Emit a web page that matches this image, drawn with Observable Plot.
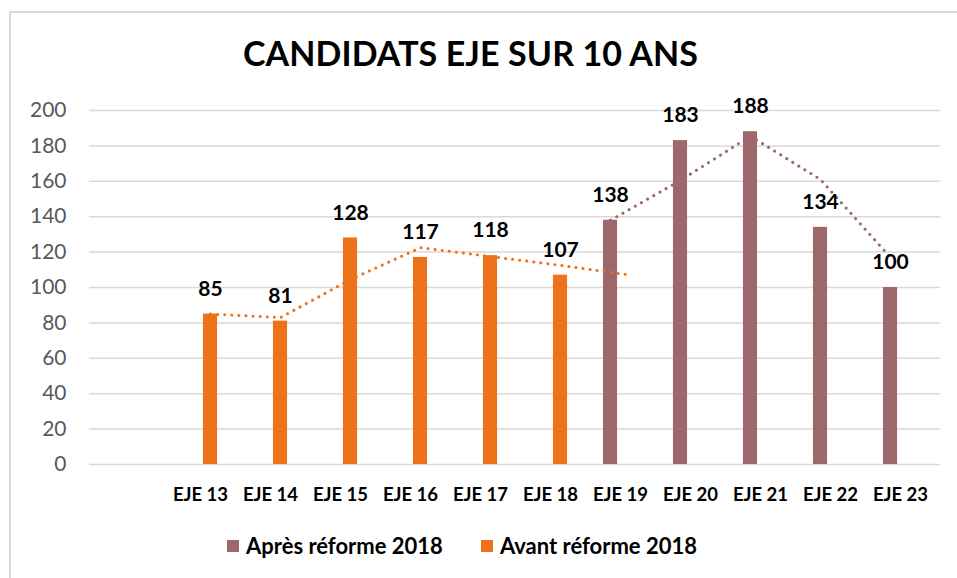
<!DOCTYPE html>
<html>
<head>
<meta charset="utf-8">
<script src="https://cdn.jsdelivr.net/npm/d3@7"></script>
<script src="https://cdn.jsdelivr.net/npm/@observablehq/plot@0.6"></script>
<style>
  html, body { margin: 0; padding: 0; background: #fff; }
  body { width: 957px; height: 578px; position: relative; overflow: hidden; font-family: Lato, "Open Sans", sans-serif; }
  #frame { position: absolute; left: 9px; top: 11px; width: 960px; height: 580px; border-top: 2px solid #d9d9d9; border-left: 2px solid #d9d9d9; box-sizing: border-box; }
  #title { position: absolute; left: 0; top: 32px; width: 941px; text-align: center; font-weight: 700; font-size: 34px; color: #000; letter-spacing: 0.1px; }
  #chart { position: absolute; left: 0; top: 90px; }
  #legend { position: absolute; left: 227px; top: 532px; display: flex; font-weight: 700; font-size: 22px; color: #000; }
  .item { display: flex; align-items: center; margin-right: 38px; }
  .sw { width: 12px; height: 12px; margin-right: 7px; }
</style>
</head>
<body>
<div id="frame"></div>
<div id="title">CANDIDATS EJE SUR 10 ANS</div>
<div id="chart"></div>
<div id="legend"></div>
<script>
const categories = ["", "EJE 13", "EJE 14", "EJE 15", "EJE 16", "EJE 17", "EJE 18", "EJE 19", "EJE 20", "EJE 21", "EJE 22", "EJE 23"];
const avantCats = ["EJE 13", "EJE 14", "EJE 15", "EJE 16", "EJE 17", "EJE 18"];
const avantValues = [85, 81, 128, 117, 118, 107];
const apresCats = ["EJE 19", "EJE 20", "EJE 21", "EJE 22", "EJE 23"];
const apresValues = [138, 183, 188, 134, 100];
// dotted trend lines (2-period moving average as drawn)
const avantTrendCats = ["EJE 13", "EJE 14", "EJE 15", "EJE 16", "EJE 17", "EJE 18", "EJE 19"];
const avantTrend = [85, 83, 104.5, 122.5, 117.5, 112.5, 107];
const apresTrendCats = ["EJE 19", "EJE 20", "EJE 21", "EJE 22", "EJE 23"];
const apresTrend = [138, 160.5, 185.5, 161, 117];
const yTicks = [0, 20, 40, 60, 80, 100, 120, 140, 160, 180, 200];
const seriesNames = ["Après réforme 2018", "Avant réforme 2018"];
const colors = ["#9D686B", "#EE7219"];

const avant = avantCats.map((c, i) => ({cat: c, v: avantValues[i]}));
const apres = apresCats.map((c, i) => ({cat: c, v: apresValues[i]}));
const avantT = avantTrendCats.map((c, i) => ({cat: c, v: avantTrend[i]}));
const apresT = apresTrendCats.map((c, i) => ({cat: c, v: apresTrend[i]}));

const W = 957, H = 430, mL = 89, mR = 17;
const bw = (W - mL - mR) / categories.length;
const barW = 15, gap = 2.5;
// orange (right of center), mauve (left of center)
const orangeInsetL = bw / 2 + gap, orangeInsetR = bw / 2 - gap - barW;
const mauveInsetL = bw / 2 - gap - barW, mauveInsetR = bw / 2 + gap;
const off = gap + barW / 2;

const labelFont = {fontSize: 21, fontWeight: 700, fill: "#000", fontFamily: "Lato, sans-serif"};

const chart = Plot.plot({
  width: W, height: H,
  marginLeft: mL, marginRight: mR, marginTop: 20, marginBottom: 56,
  style: {fontFamily: "Lato, sans-serif", background: "transparent"},
  x: {type: "band", domain: categories, padding: 0, label: null},
  y: {domain: [0, 200], ticks: yTicks, label: null},
  marks: [
    Plot.gridY(yTicks, {stroke: "#d9d9d9", strokeOpacity: 1, strokeWidth: 1.5}),
    Plot.axisY({ticks: yTicks, tickSize: 0, tickPadding: 23, fontSize: 21, fill: "#595959", label: null}),
    Plot.axisX({tickSize: 0, tickPadding: 23, fontSize: 18.5, fontWeight: 700, fill: "#000", label: null}),
    Plot.barY(avant, {x: "cat", y: "v", fill: colors[1], insetLeft: orangeInsetL, insetRight: orangeInsetR}),
    Plot.barY(apres, {x: "cat", y: "v", fill: colors[0], insetLeft: mauveInsetL, insetRight: mauveInsetR}),
    Plot.lineY(avantT, {x: "cat", y: "v", dx: off, stroke: colors[1], strokeWidth: 3, strokeDasharray: "0.1 7", strokeLinecap: "round"}),
    Plot.lineY(apresT, {x: "cat", y: "v", dx: -off, stroke: colors[0], strokeWidth: 3, strokeDasharray: "0.1 7", strokeLinecap: "round"}),
    Plot.text(avant, {x: "cat", y: "v", text: d => String(d.v), dx: off, dy: -25, ...labelFont}),
    Plot.text(apres, {x: "cat", y: "v", text: d => String(d.v), dx: -off, dy: -25, ...labelFont})
  ]
});
document.getElementById("chart").appendChild(chart);

const legend = document.getElementById("legend");
seriesNames.forEach((name, i) => {
  const item = document.createElement("div");
  item.className = "item";
  const sw = document.createElement("div");
  sw.className = "sw";
  sw.style.background = colors[i];
  const t = document.createElement("span");
  t.textContent = name;
  item.appendChild(sw);
  item.appendChild(t);
  legend.appendChild(item);
});
</script>
</body>
</html>
